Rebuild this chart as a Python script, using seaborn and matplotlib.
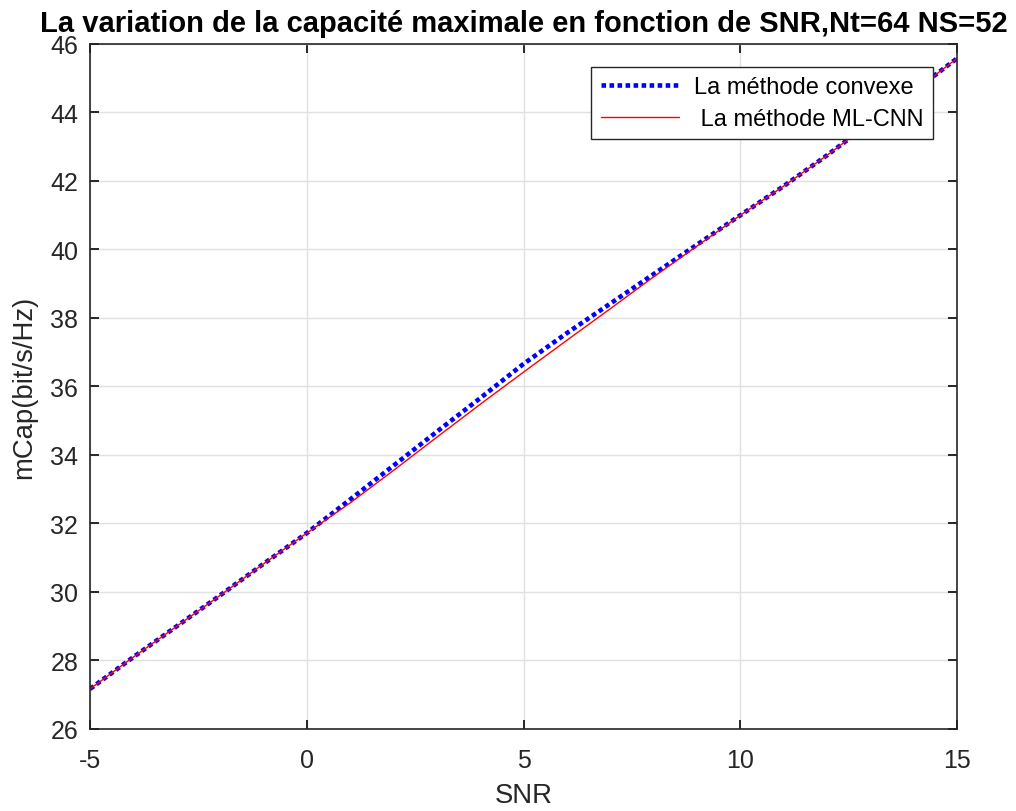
import matplotlib
matplotlib.use("Agg")
import matplotlib.pyplot as plt
import seaborn as sns
import pandas as pd

snr = [-5, -4, -3, -2, -1, 0, 1, 2, 3, 4, 5, 6, 7, 8, 9, 10, 11, 12, 13, 14, 15]
cap_convexe = [27.17, 28.1, 29.0, 29.9, 30.82, 31.72, 32.7, 33.69, 34.68, 35.66,
               36.66, 37.56, 38.42, 39.28, 40.14, 41.0, 41.85, 42.75, 43.7, 44.62, 45.58]
cap_mlcnn = [27.17, 28.1, 29.0, 29.9, 30.82, 31.72, 32.6, 33.55, 34.52, 35.48,
             36.42, 37.35, 38.27, 39.2, 40.1, 41.0, 41.85, 42.75, 43.7, 44.62, 45.58]
label_convexe = "La méthode convexe"
label_mlcnn = " La méthode ML-CNN"
x_ticks = [-5, 0, 5, 10, 15]
y_ticks = [26, 28, 30, 32, 34, 36, 38, 40, 42, 44, 46]

sns.set_style("ticks")
plt.rcParams['font.family'] = ['Liberation Sans', 'DejaVu Sans']

fig = plt.figure(figsize=(10.16, 8.12), dpi=100)
ax = fig.add_axes([0.0886, 0.101, 0.8534, 0.8436])

df = pd.DataFrame({"SNR": snr + snr,
                   "cap": cap_convexe + cap_mlcnn,
                   "method": [label_convexe] * len(snr) + [label_mlcnn] * len(snr)})

sns.lineplot(data=df[df.method == label_convexe], x="SNR", y="cap", ax=ax,
             color="#0000ff", linewidth=3.3, linestyle=(0, (1, 0.75)),
             label=label_convexe)
sns.lineplot(data=df[df.method == label_mlcnn], x="SNR", y="cap", ax=ax,
             color="#ff0000", linewidth=1.0, label=label_mlcnn)

dark = "#262626"
ax.set_xlim(-5, 15)
ax.set_ylim(26, 46)
ax.set_xticks(x_ticks)
ax.set_yticks(y_ticks)
ax.set_xticklabels([str(t) for t in x_ticks])
ax.set_yticklabels([str(t) for t in y_ticks])
ax.grid(True, color="#e0e0e0", linewidth=1.0)
ax.set_axisbelow(True)
for s in ax.spines.values():
    s.set_visible(True)
    s.set_color(dark)
    s.set_linewidth(1.2)
ax.tick_params(direction="in", length=6.5, width=1.4, color=dark,
               labelsize=18, labelcolor=dark, top=True, right=True)
ax.tick_params(axis="x", pad=14)
ax.tick_params(axis="y", pad=8.5)
ax.set_xlabel("SNR", fontsize=19.8, color=dark, labelpad=7)
ax.set_ylabel("mCap(bit/s/Hz)", fontsize=19.8, color=dark, labelpad=9.5)
ax.set_title("La variation de la capacité maximale en fonction de SNR,Nt=64 NS=52",
             fontsize=21, fontweight="bold", pad=9.5, color="black")

leg = ax.legend(loc="upper right", bbox_to_anchor=(0.9723, 0.9664), fontsize=17,
                frameon=True, fancybox=False, handlelength=3.3, borderpad=0.4,
                labelspacing=0.4, handletextpad=0.65, borderaxespad=0)
leg.get_frame().set_edgecolor(dark)
leg.get_frame().set_linewidth(1.0)
leg.get_frame().set_alpha(1)
for t in leg.get_texts():
    t.set_color("black")

fig.savefig("out.png", dpi=100)
